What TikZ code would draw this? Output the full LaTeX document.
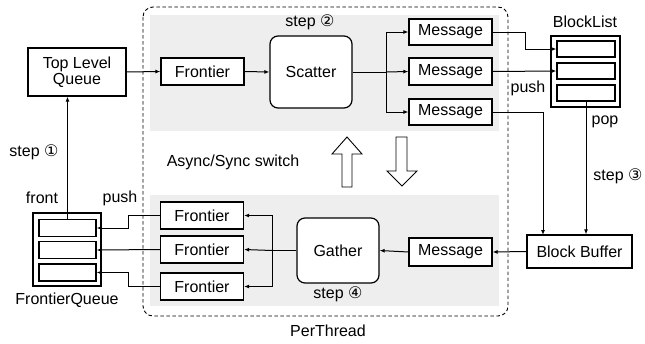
\documentclass[tikz,border=0pt]{standalone}
\usepackage{fontspec}
\setmainfont{Liberation Sans}
\newfontfamily\circfont{DejaVu Sans}
\usetikzlibrary{arrows.meta}
\definecolor{panelgray}{RGB}{238,238,238}
\begin{document}
\begin{tikzpicture}[x=1pt,y=-1pt,
  font=\fontsize{16}{18.5}\selectfont,
  box/.style={draw,line width=1.2pt,fill=white,inner sep=0pt,minimum width=83pt,minimum height=27pt},
  roundbox/.style={box,rounded corners=8pt,minimum width=82pt},
  slot/.style={draw,line width=1.2pt,fill=white,inner sep=0pt,minimum width=58pt,minimum height=16pt},
  holder/.style={draw,line width=1.2pt,fill=white,inner sep=0pt},
  conn/.style={line width=1pt},
  arr/.style={conn,-{Latex[length=5pt,width=4pt]}},
  hollow/.style={draw,line width=0.9pt,fill=white},
  lbl/.style={inner sep=0pt}]
\useasboundingbox (0,0) rectangle (645,343);

% thread area: shaded phases and dashed frame
\fill[panelgray] (150,15) rectangle (499,131);
\fill[panelgray] (150,195) rectangle (499,306);
\draw[line width=0.9pt,dash pattern=on 3.5pt off 2.5pt,rounded corners=10pt] (143,7) rectangle (508,316);

% global queue
\node[box,minimum width=98pt,minimum height=48pt,align=center] (tlq) at (77,72) {Top Level\\[-2pt]Queue};

% scatter phase
\node[box] (f0) at (202.5,71.5) {Frontier};
\node[roundbox,minimum height=72pt] (scatter) at (311,72) {Scatter};
\node[box,minimum height=26pt] (m1) at (450.5,32) {Message};
\node[box] (m2) at (450.5,71.5) {Message};
\node[box,minimum height=26pt] (m3) at (450.5,112) {Message};

% block list
\node[holder,minimum width=69pt,minimum height=71pt] (bl) at (585.5,71.5) {};
\node[slot] (bl1) at (586,49) {};
\node[slot] (bl2) at (586,71) {};
\node[slot] (bl3) at (586,93) {};

% block buffer and gather phase
\node[box,minimum width=105pt,minimum height=33pt] (bb) at (579.5,251.5) {Block Buffer};
\node[box,minimum height=28pt] (m4) at (450.5,252) {Message};
\node[roundbox,minimum height=65pt] (gather) at (338,250.5) {Gather};
\node[box] (f1) at (202,215.5) {Frontier};
\node[box] (f2) at (202,249.5) {Frontier};
\node[box] (f3) at (202,286.5) {Frontier};

% frontier queue
\node[holder,minimum width=68pt,minimum height=73pt] (fq) at (67,249.5) {};
\node[slot,minimum width=57pt,minimum height=17pt] (fq1) at (67.5,228) {};
\node[slot,minimum width=57pt,minimum height=17pt] (fq2) at (67.5,250) {};
\node[slot,minimum width=57pt,minimum height=17pt] (fq3) at (67.5,272.5) {};

% branch points
\coordinate (split1) at (386,72);
\coordinate (split2) at (272,250.5);
\coordinate (mergeA) at (525,32);
\coordinate (bbin) at (543,235);
\coordinate (joinA) at (128,215.5);
\coordinate (joinB) at (128,286.5);

% connectors
\draw[arr] (tlq.east) -- (f0.west);
\draw[arr] (f0.east) -- (scatter.west);
\draw[conn] (scatter.east) -- (split1);
\draw[arr] (split1) |- (m1.west);
\draw[arr] (split1) -- (m2.west);
\draw[arr] (split1) |- (m3.west);
\draw[arr] (m1.east) -- (mergeA) |- (bl1.west);
\draw[arr] (m2.east) -- (bl2.west);
\draw[arr] (m3.east) -| (bbin);
\draw[arr] (bl3.south) -- (bl3.south |- bb.north);
\draw[arr] (bb.west) -- (m4.east);
\draw[arr] (m4.west) -- (gather.east);
\draw[conn] (gather.west) -- (split2);
\draw[arr] (split2) |- (f1.east);
\draw[arr] (split2) -- (f2.east);
\draw[arr] (split2) |- (f3.east);
\draw[arr] (f1.west) -- (joinA) |- (fq1.east);
\draw[arr] (f2.west) -- (fq2.east);
\draw[arr] (f3.west) -- (joinB) |- (fq3.east);
\draw[arr] (fq1.north) -- (fq1.north |- tlq.south);

% async/sync switch arrows
\draw[hollow] (342,187) -- (342,154) -- (332,154) -- (347,137) -- (362,154) -- (352,154) -- (352,187) -- cycle;
\draw[hollow] (396,137) -- (396,171) -- (387,171) -- (402,186) -- (417,171) -- (407,171) -- (407,137) -- cycle;

% labels
\node[lbl] (s1) at (34,152) {step {\circfont ①}};
\node[lbl] (front) at (42,198) {front};
\node[lbl] (pushL) at (120,198) {push};
\node[lbl] (fqname) at (67,300) {FrontierQueue};
\node[lbl] (switch) at (233,162) {Async/Sync switch};
\node[lbl] (s2) at (310,22) {step {\circfont ②}};
\node[lbl] (blname) at (585,22) {BlockList};
\node[lbl] (pushR) at (528,88) {push};
\node[lbl] (pop) at (605,122) {pop};
\node[lbl] (s3) at (618,176) {step {\circfont ③}};
\node[lbl] (s4) at (338,294) {step {\circfont ④}};
\node[lbl] (pt) at (328,331) {PerThread};
\end{tikzpicture}
\end{document}
